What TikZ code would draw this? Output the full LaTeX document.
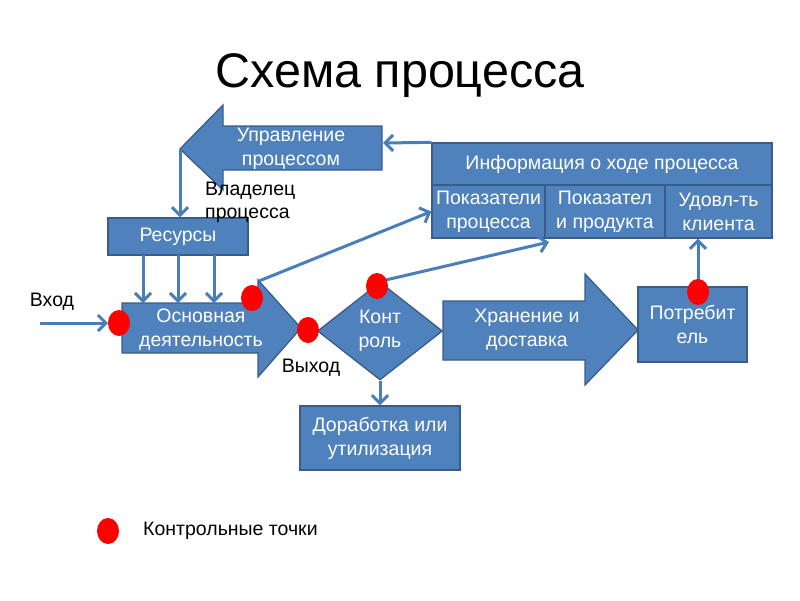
\documentclass[tikz,border=0pt]{standalone}
\usepackage{fontspec}
\setmainfont{Liberation Sans}
\usetikzlibrary{arrows.meta,shapes.geometric}
\definecolor{boxblue}{HTML}{4F81BD}
\definecolor{boxedge}{HTML}{385D8A}
\definecolor{lineblue}{HTML}{4A7EBB}

\begin{document}
\begin{tikzpicture}[x=1pt,y=-1pt,
    blk/.style={draw=boxedge,fill=boxblue,line width=1.3pt,text=white,
      font=\fontsize{19.5}{24}\selectfont,align=center,inner sep=1pt},
    blkarrow/.style={draw=boxedge,fill=boxblue,line width=1.3pt},
    wtxt/.style={text=white,font=\fontsize{19.5}{24}\selectfont,align=center,inner sep=0pt},
    lbl/.style={font=\fontsize{19.5}{23}\selectfont,align=left,inner sep=0pt},
    con/.style={draw=lineblue,line width=3pt,-{Straight Barb[length=8pt,width=16pt]}},
    cp/.style={fill=red,ellipse,minimum width=22pt,minimum height=26pt,inner sep=0pt}]
  \useasboundingbox (0,0) rectangle (800,600);

  % title
  \node[font=\fontsize{48.5}{52}\selectfont] (title) at (400,76) {Схема процесса};

  % big block arrows
  \draw[blkarrow] (382,126) -- (223,126) -- (223,105) -- (180,149)
                  -- (223,190) -- (223,170) -- (382,170) -- cycle;
  \node[wtxt] (upr) at (291,149) {Управление\\процессом};

  \draw[blkarrow] (122,303) -- (258,303) -- (258,280) -- (301,328)
                  -- (258,377) -- (258,353) -- (122,353) -- cycle;
  \node[wtxt] (osn) at (201,330) {Основная\\деятельность};

  \draw[blkarrow] (443,301) -- (585,301) -- (585,274) -- (638,330)
                  -- (585,385) -- (585,360) -- (443,360) -- cycle;
  \node[wtxt] (hran) at (527,330) {Хранение и\\доставка};

  % boxes
  \node[blk,minimum width=140pt,minimum height=37pt] (res) at (178,236.5) {Ресурсы};
  \node[blk,minimum width=340pt,minimum height=42pt] (info) at (602,164) {Информация о ходе процесса};
  \node[blk,minimum width=113pt,minimum height=53pt] (pp) at (488.5,211.5) {Показатели\\процесса};
  \node[blk,minimum width=120pt,minimum height=53pt] (pr) at (605,211.5) {Показател\\и продукта};
  \node[blk,minimum width=107pt,minimum height=53pt] (ud) at (718.5,211.5) {Удовл-ть\\клиента};
  \node[blk,minimum width=160pt,minimum height=64pt] (dor) at (380,438) {Доработка или\\утилизация};
  \node[blk,minimum width=109pt,minimum height=75pt] (potr) at (692.5,324.5) {Потребит\\ель};
  \node[blk,diamond,minimum width=125pt,minimum height=98pt,inner sep=0pt] (kon) at (380,331) {Конт\\роль};

  % connector ends
  \coordinate (updr) at (383,143);
  \coordinate (updtip) at (180,150);
  \coordinate (in) at (40,323);
  \coordinate (osnl) at (108,323);
  \coordinate (osnhd) at (259,281);
  \coordinate (prin) at (549,242);
  \coordinate (potrtop) at (698,287);

  % connectors
  \draw[con] (info.north west) -- (updr);
  \draw[con] (updtip) -- (updtip |- res.north);
  \foreach \x in {143,178,214} {
    \draw[con] (\x,255) -- (\x,303);
  }
  \draw[con] (in) -- (osnl);
  \draw[con] (osnhd) -- (pp.west);
  \draw[con] (kon.north) -- (prin);
  \draw[con] (kon.south) -- (dor.north);
  \draw[con] (potrtop) -- (potrtop |- ud.south);

  % labels
  \node[lbl] (vhod) at (52,302) {Вход};
  \node[lbl] (vyhod) at (311,368) {Выход};
  \node[lbl,anchor=west] (vlad) at (205,202) {Владелец\\процесса};

  % control points
  \node[cp] (cp1) at (119,323) {};
  \node[cp] (cp2) at (252,298) {};
  \node[cp] (cp3) at (308,330) {};
  \node[cp] (cp4) at (377,286) {};
  \node[cp] (cp5) at (698,292) {};

  % legend
  \node[cp] (cpl) at (108,531) {};
  \node[lbl,anchor=west] (leg) at (143,531) {Контрольные точки};
\end{tikzpicture}
\end{document}
